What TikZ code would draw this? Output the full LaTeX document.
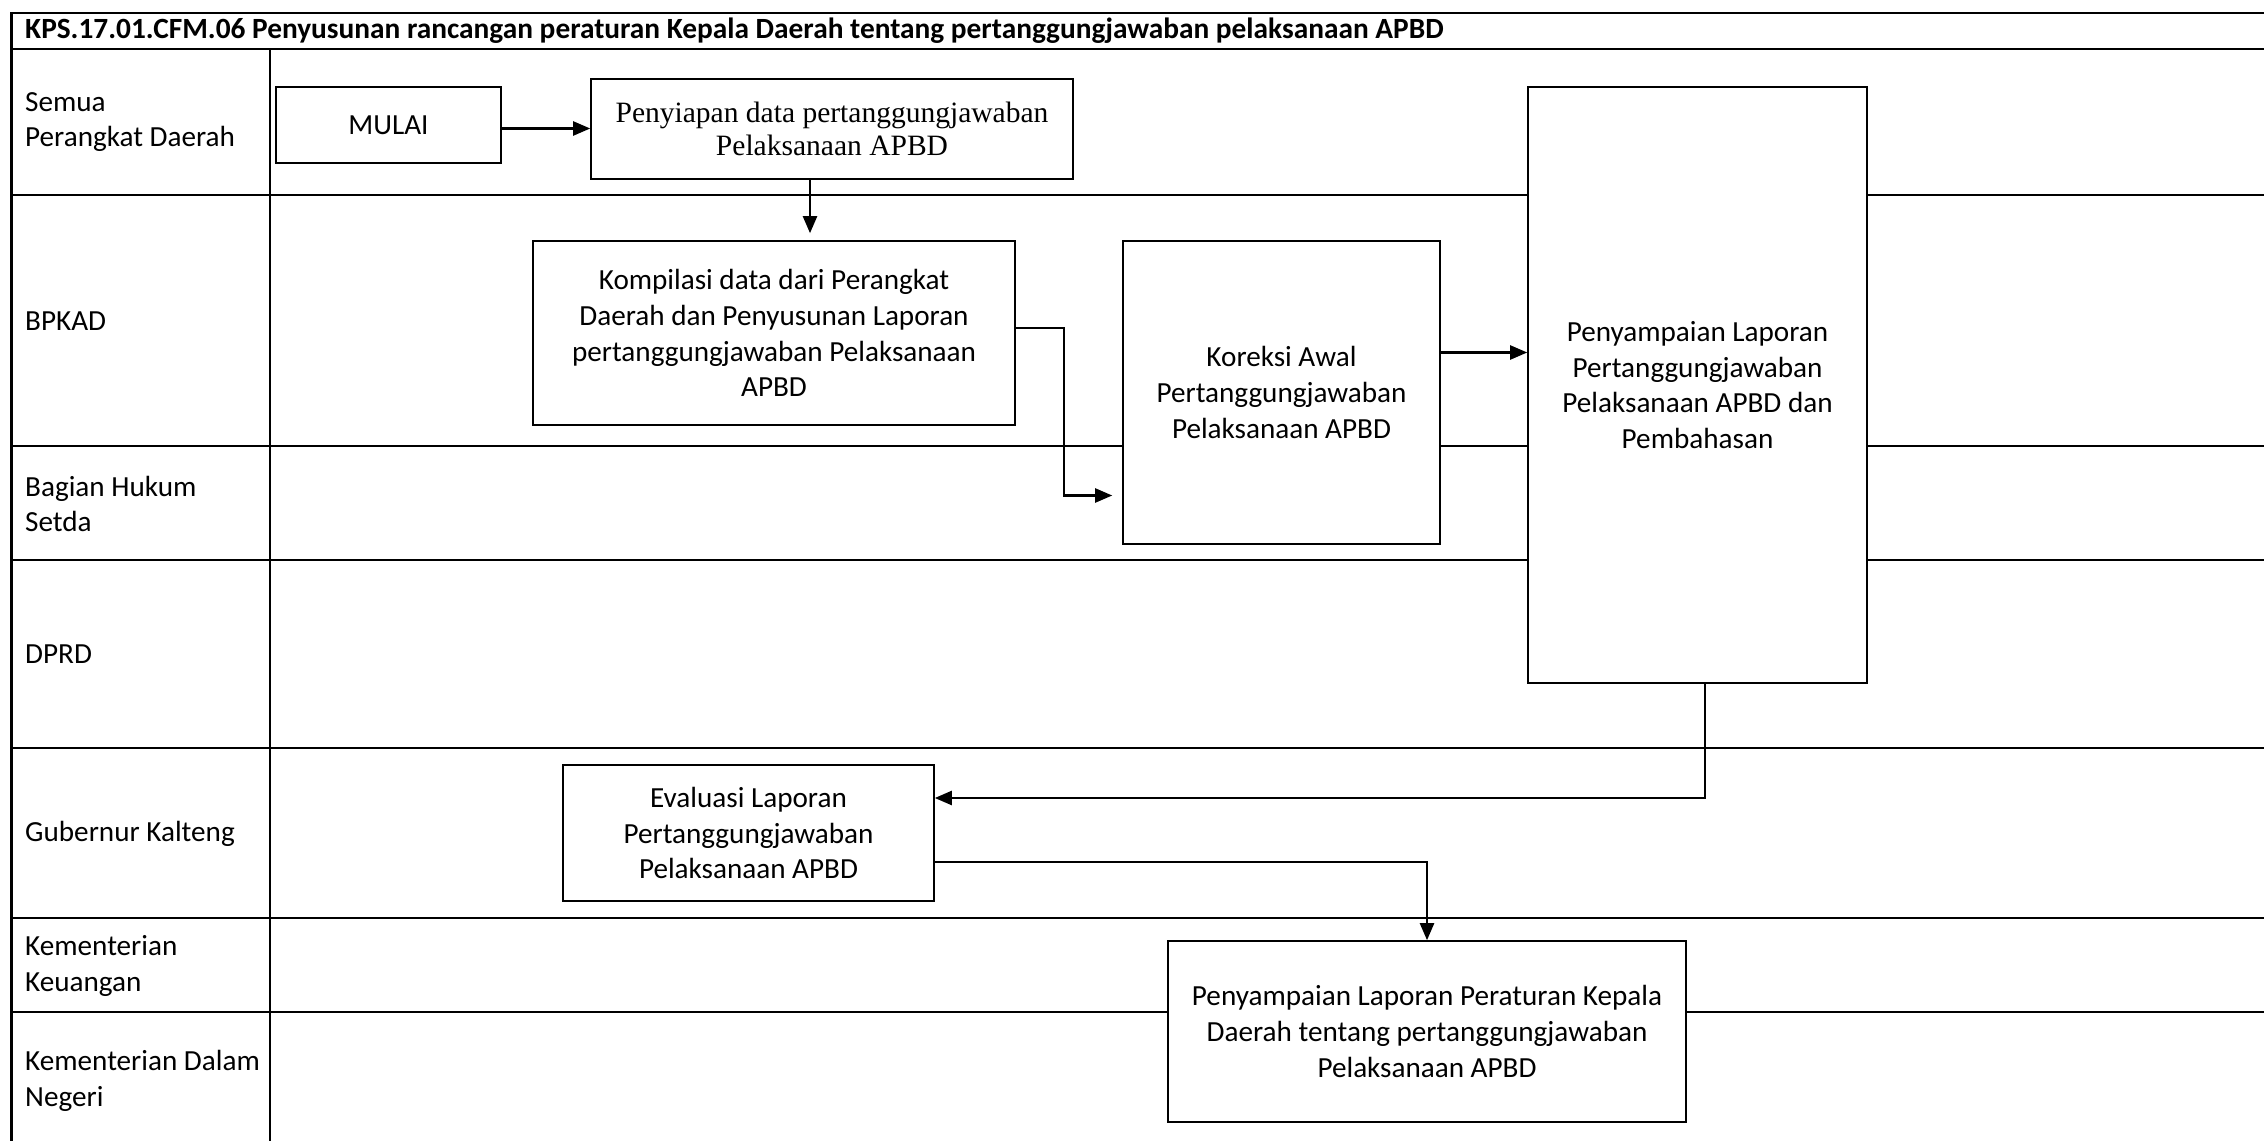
\documentclass[tikz,border=0pt]{standalone}
\usepackage{fontspec}
\setmainfont{Carlito}
\newfontfamily\timesfont{Liberation Serif}
\usetikzlibrary{arrows.meta,positioning,calc}

\begin{document}
\begin{tikzpicture}[
  lane/.style={line width=0.6pt},
  lanelabel/.style={anchor=west, align=left, inner sep=0pt, font=\fontsize{8.3}{10.2}\selectfont},
  proc/.style={rectangle, draw, line width=0.45pt, fill=white, align=center, inner sep=0pt, font=\fontsize{8.3}{10.2}\selectfont},
  flow/.style={line width=0.65pt, -{Triangle[length=0.17cm,width=0.14cm]}}
]
  \useasboundingbox (0,0) rectangle (22.64,-11.41);
  % frame and lanes
  \draw[lane] (22.64,-0.13) -- (0.115,-0.13) -- (0.115,-11.41);
  \draw[lane] (0.115,-0.49) -- (22.64,-0.49);
  \draw[lane] (2.70,-0.49) -- (2.70,-11.41);
  \foreach \y in {1.95,4.46,5.60,7.48,9.18,10.12}
    \draw[lane] (0.115,-\y) -- (22.64,-\y);
  \node[lanelabel, font=\fontsize{8.35}{10.2}\selectfont\bfseries] (judul) at (0.245,-0.31) {KPS.17.01.CFM.06 Penyusunan rancangan peraturan Kepala Daerah tentang pertanggungjawaban pelaksanaan APBD};
  \node[lanelabel] (semua) at (0.245,-1.22) {Semua\\Perangkat Daerah};
  \node[lanelabel] (bpkad) at (0.245,-3.21) {BPKAD};
  \node[lanelabel] (hukum) at (0.245,-5.04) {Bagian Hukum\\Setda};
  \node[lanelabel] (dprd) at (0.245,-6.54) {DPRD};
  \node[lanelabel] (gubernur) at (0.245,-8.34) {Gubernur Kalteng};
  \node[lanelabel] (keuangan) at (0.245,-9.66) {Kementerian\\Keuangan};
  \node[lanelabel] (dagri) at (0.245,-10.81) {Kementerian Dalam\\Negeri};
  % process boxes
  \node[proc, minimum width=2.25cm, minimum height=0.76cm] (mulai) at (3.885,-1.25) {MULAI};
  \node[proc, minimum width=4.82cm, minimum height=1.00cm, font=\fontsize{8.4}{9.5}\selectfont\timesfont] (penyiapan) at (8.32,-1.29) {Penyiapan data pertanggungjawaban\\Pelaksanaan APBD};
  \node[proc, minimum width=4.82cm, minimum height=1.84cm] (kompilasi) at (7.74,-3.33) {Kompilasi data dari Perangkat\\Daerah dan Penyusunan Laporan\\pertanggungjawaban Pelaksanaan\\APBD};
  \node[proc, minimum width=3.17cm, minimum height=3.03cm] (koreksi) at (12.815,-3.925) {Koreksi Awal\\Pertanggungjawaban\\Pelaksanaan APBD};
  \node[proc, minimum width=3.39cm, minimum height=5.96cm] (lapor) at (16.975,-3.85) {Penyampaian Laporan\\Pertanggungjawaban\\Pelaksanaan APBD dan\\Pembahasan};
  \node[proc, minimum width=3.71cm, minimum height=1.36cm] (evaluasi) at (7.485,-8.33) {Evaluasi Laporan\\Pertanggungjawaban\\Pelaksanaan APBD};
  \node[proc, minimum width=5.18cm, minimum height=1.81cm] (perkada) at (14.27,-10.315) {Penyampaian Laporan Peraturan Kepala\\Daerah tentang pertanggungjawaban\\Pelaksanaan APBD};
  % connectors
  \draw[flow] ([yshift=-0.035cm]mulai.east) -- ([yshift=-0.035cm]mulai.east -| penyiapan.west);
  \draw[flow, shorten >=0.07cm] ([xshift=-0.22cm]penyiapan.south) -- ([xshift=-0.22cm]penyiapan.south |- kompilasi.north);
  \draw[flow, shorten >=0.1cm] ([yshift=0.05cm]kompilasi.east) -- ++(0.48,0) |- ([yshift=-1.03cm]koreksi.west);
  \draw[flow] ([yshift=0.4cm]koreksi.east) -- ([yshift=0.4cm]koreksi.east -| lapor.west);
  \draw[flow] ([xshift=0.075cm]lapor.south) |- ([yshift=0.35cm]evaluasi.east);
  \draw[flow] ([yshift=-0.29cm]evaluasi.east) -| (perkada.north);
\end{tikzpicture}
\end{document}
